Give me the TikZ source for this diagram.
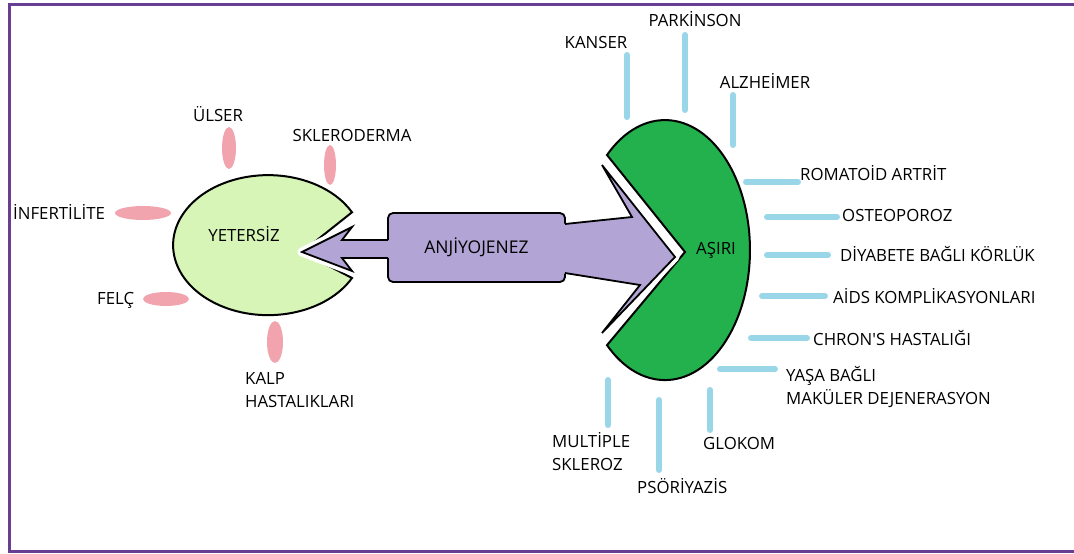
\documentclass[tikz,border=0pt]{standalone}
\usepackage{fontspec}
\setmainfont{Open Sans}
\usepackage{tikz}
\usetikzlibrary{positioning}
\definecolor{framepurple}{RGB}{104,62,146}
\definecolor{arrowpurple}{RGB}{178,164,212}
\definecolor{palegreen}{RGB}{214,245,182}
\definecolor{paintgreen}{RGB}{34,177,76}
\definecolor{pinkmark}{RGB}{242,164,174}
\definecolor{bluemark}{RGB}{153,215,232}
\tikzstyle{disease} = [font=\fontsize{16.8}{23}\selectfont, inner sep=0pt, text height=12pt, text depth=0pt]
\tikzstyle{diseasetwo} = [font=\fontsize{16.8}{23}\selectfont, inner sep=0pt, align=left]
\tikzstyle{pacman} = [draw=black, line width=2pt]
\tikzstyle{bluetick} = [draw=bluemark, line width=6pt, line cap=round]
\tikzstyle{headgap} = [draw=white, line width=9pt, line join=round]
\tikzstyle{headline} = [draw=black, line width=1.8pt, line join=miter]
\begin{document}
\begin{tikzpicture}[x=1pt, y=-1pt]
	\useasboundingbox (0,0) rectangle (1074,554);
	\draw [framepurple, line width=3pt] (1074,4) -- (9,4) -- (9,551) -- (1074,551);

	% the two pacmen
	\draw [pacman, fill=palegreen] (302,252) -- (352,278) arc[start angle=28, end angle=332, x radius=95, y radius=70] -- cycle;
	\draw [pacman, fill=paintgreen] (685,252) -- (607,155) arc[start angle=-133, end angle=133, x radius=85, y radius=130] -- cycle;
	\node (yetersiz) [disease] at (244,235) {YETERS\.{I}Z};
	\node (asiri) [disease] at (716,248) {A\c{S}IRI};

	% white gap round the heads
	\draw [headgap] (388,240) -- (342,240) -- (352,227) -- (302,252) -- (352,271) -- (342,258) -- (388,258);
	\draw [headgap] (565,224) -- (632,217) -- (602,165) -- (675,257) -- (602,333) -- (640,285) -- (565,273);

	% arrow
	\node (angio) [draw=black, line width=1.8pt, fill=arrowpurple, rounded corners=5pt, minimum width=177pt, minimum height=69pt, font=\fontsize{17.5}{20}\selectfont] at (476.5,247.5) {ANJ\.{I}YOJENEZ};
	\fill [arrowpurple] (393,240) -- (342,240) -- (352,227) -- (302,252) -- (352,271) -- (342,258) -- (393,258) -- cycle;
	\draw [headline] (388,240) -- (342,240) -- (352,227) -- (302,252) -- (352,271) -- (342,258) -- (388,258);
	\fill [arrowpurple] (560,224) -- (632,217) -- (602,165) -- (675,257) -- (602,333) -- (640,285) -- (560,273) -- cycle;
	\draw [headline] (565,224) -- (632,217) -- (602,165) -- (675,257) -- (602,333) -- (640,285) -- (565,273);

	% pink marks
	\fill [pinkmark] (229,148) ellipse [x radius=7, y radius=21];
	\fill [pinkmark] (330,165) ellipse [x radius=6, y radius=20];
	\fill [pinkmark] (143,213) ellipse [x radius=28, y radius=7];
	\fill [pinkmark] (166,299) ellipse [x radius=23, y radius=7];
	\fill [pinkmark] (275,342) ellipse [x radius=8, y radius=21];

	\node (ulser) [disease] at (218,115) {\"ULSER};
	\node (skleroderma) [disease] at (352,135) {SKLERODERMA};
	\node (infertilite) [disease, anchor=west] at (13,213) {\.{I}NFERT\.{I}L\.{I}TE};
	\node (felc) [disease, anchor=west] at (97,298) {FEL\c{C}};
	\node (kalp) [diseasetwo, anchor=west] at (245,390) {KALP\\HASTALIKLARI};

	% blue marks
	\draw [bluetick] (627,55) -- (627,117);
	\draw [bluetick] (685,35) -- (685,110);
	\draw [bluetick] (733,95) -- (733,145);
	\draw [bluetick] (746,182) -- (798,182);
	\draw [bluetick] (767,217) -- (837,217);
	\draw [bluetick] (767,255) -- (828,255);
	\draw [bluetick] (762,296) -- (825,296);
	\draw [bluetick] (751,338) -- (807,338);
	\draw [bluetick] (720,369) -- (775,369);
	\draw [bluetick] (608,380) -- (608,425);
	\draw [bluetick] (659,400) -- (659,470);
	\draw [bluetick] (710,390) -- (710,430);

	\node (kanser) [disease] at (596,42) {KANSER};
	\node (parkinson) [disease] at (695,21) {PARK\.{I}NSON};
	\node (alzheimer) [disease] at (765,82) {ALZHE\.{I}MER};
	\node (romatoid) [disease, anchor=west] at (800,174) {ROMATO\.{I}D ARTR\.{I}T};
	\node (osteoporoz) [disease, anchor=west] at (842,215) {OSTEOPOROZ};
	\node (diyabet) [disease, anchor=west] at (840,255) {D\.{I}YABETE BA\u{G}LI K\"ORL\"UK};
	\node (aids) [disease, anchor=west] at (833,297) {A\.{I}DS KOMPL\.{I}KASYONLARI};
	\node (chron) [disease, anchor=west] at (813,339) {CHRON\textquotesingle S HASTALI\u{G}I};
	\node (makuler) [diseasetwo, anchor=west] at (786,387) {YA\c{S}A BA\u{G}LI\\MAK\"ULER DEJENERASYON};
	\node (glokom) [disease, anchor=west] at (703,443) {GLOKOM};
	\node (multiple) [diseasetwo, anchor=west] at (552,452) {MULT\.{I}PLE\\SKLEROZ};
	\node (psoriyazis) [disease, anchor=west] at (637,487) {PS\"OR\.{I}YAZ\.{I}S};
\end{tikzpicture}
\end{document}
